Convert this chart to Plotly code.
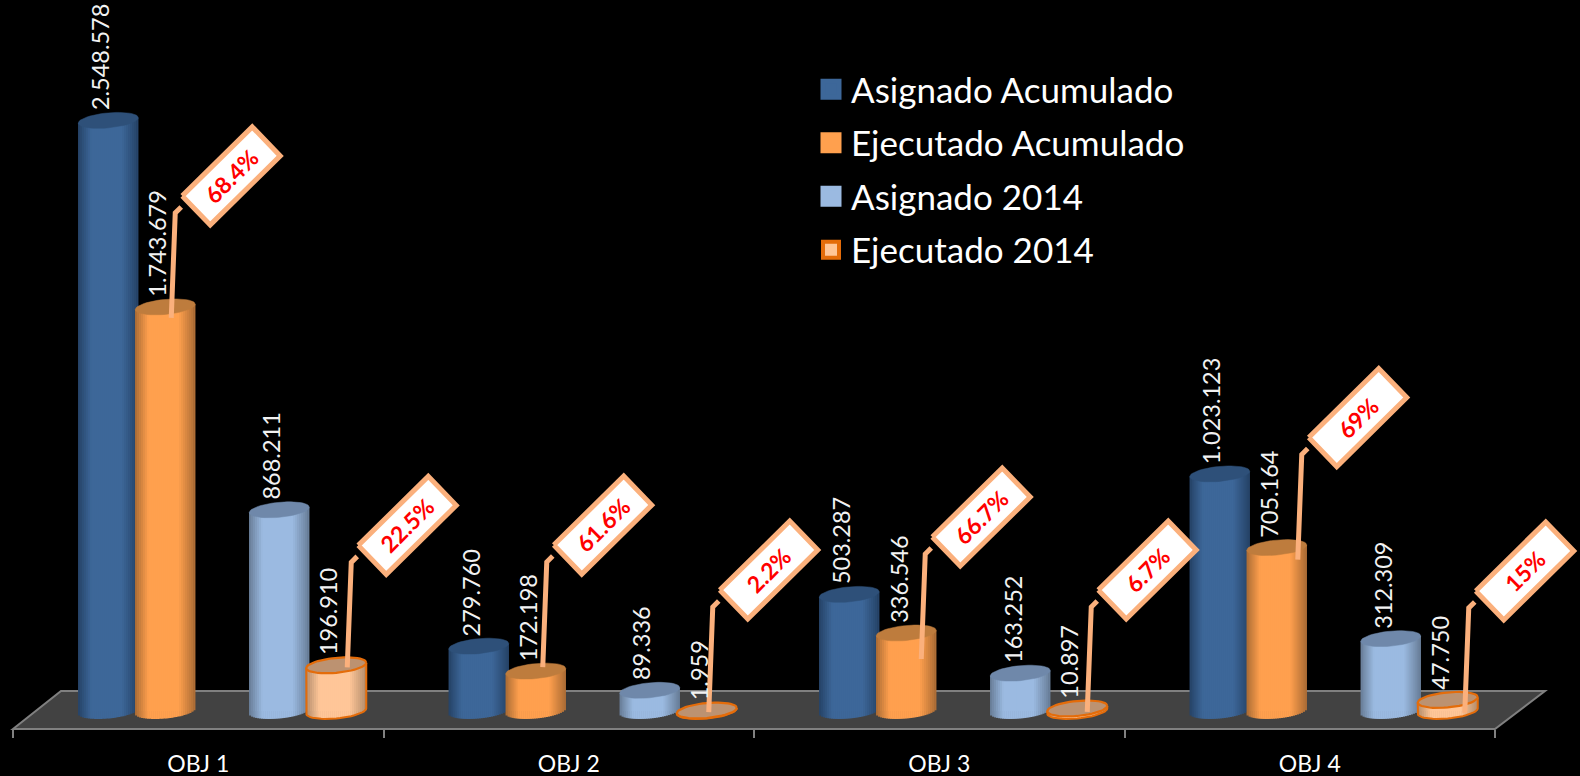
import math
import plotly.graph_objects as go

# ---------- data ----------
categories = ["OBJ 1", "OBJ 2", "OBJ 3", "OBJ 4"]
asignado_acumulado = [2548578, 279760, 503287, 1023123]
ejecutado_acumulado = [1743679, 172198, 336546, 705164]
asignado_2014 = [868211, 89336, 163252, 312309]
ejecutado_2014 = [196910, 1959, 10897, 47750]
pct_acumulado = ["68.4%", "61.6%", "66.7%", "69%"]
pct_2014 = ["22.5%", "2.2%", "6.7%", "15%"]
value_labels = lambda vals: [f"{v:,}".replace(",", ".") for v in vals]

# ---------- layout constants (pixels) ----------
W, H = 1580, 776
L, R = 13, 1495           # first / last category divider
AX_Y = 729                # axis line
BASE_Y = 711              # value 0
PX_CAT = (R - L) / 4      # px per category
K = 4315.0                # value units per px
FONT = "Lato"
BAR_W = 60
A, B = 30.0, 7.5          # ellipse half axes
TILT = 0.09
N_STRIP = 30

series = [
    dict(name="Asignado Acumulado", vals=asignado_acumulado, off=-90, mid=(61, 103, 153), edge=(37, 66, 102), cap="#2E5079"),
    dict(name="Ejecutado Acumulado", vals=ejecutado_acumulado, off=-33, mid=(255, 160, 78), edge=(170, 107, 52), cap="#BE7C3D"),
    dict(name="Asignado 2014", vals=asignado_2014, off=81, mid=(155, 186, 225), edge=(103, 124, 150), cap="#6F88AA"),
    dict(name="Ejecutado 2014", vals=ejecutado_2014, off=138, mid=(255, 198, 152), edge=(178, 140, 108), cap="#BC9271"),
]
OUTLINE = "#E46C0A"
CALL = "#FBB07C"

# leader foot offsets from the bar-top centre, px
foot_acum = [(6, 11), (7, -4), (15, 26), (21, 12)]
foot_2014 = [(11, 2), (2, 1.5), (10, 3.5), (17, 13)]


def hexmix(a, b, t):
    return "rgb(%d,%d,%d)" % tuple(round(a[i] + (b[i] - a[i]) * t) for i in range(3))


def ellipse(cx, v):
    xs, ys = [], []
    for i in range(49):
        t = 2 * math.pi * i / 48
        dx = A * math.cos(t)
        xs.append(cx + dx / PX_CAT)
        ys.append(v + K * (TILT * dx + B * math.sin(t)))
    return xs, ys


fig = go.Figure()

# cylinder bodies: one real bar per series, then shading strips through the same axes
for s in series:
    fig.add_trace(go.Bar(
        x=[i + s["off"] / PX_CAT for i in range(4)], y=s["vals"], width=(BAR_W - 4) / PX_CAT,
        marker=dict(color=hexmix(s["mid"], s["mid"], 0), line=dict(width=0)),
        name=s["name"], showlegend=False, cliponaxis=False, hoverinfo="skip"))
    sw = BAR_W / N_STRIP
    for j in range(N_STRIP):
        dx = -A + sw * (j + 0.5)
        u = dx / A
        band = 0.45 if u < 0 else 0.55
        t = min(1.0, (1 - abs(u)) / band)
        arc = B * math.sqrt(max(0.0, 1 - u * u))
        base = [K * (TILT * dx - arc)] * 4
        top = [v + K * TILT * dx for v in s["vals"]]
        fig.add_trace(go.Bar(
            x=[i + (s["off"] + dx) / PX_CAT for i in range(4)],
            y=[tp - bs for tp, bs in zip(top, base)], base=base,
            width=(sw + 0.4) / PX_CAT,
            marker=dict(color=hexmix(s["edge"], s["mid"], t), line=dict(width=0)),
            showlegend=False, cliponaxis=False, hoverinfo="skip"))

# cylinder tops
for s in series:
    xs, ys = [], []
    for i, v in enumerate(s["vals"]):
        ex, ey = ellipse(i + s["off"] / PX_CAT, v)
        xs += ex + [None]
        ys += ey + [None]
    outlined = s["name"] == "Ejecutado 2014"
    if outlined:
        ox, oy = [], []
        for i, v in enumerate(s["vals"]):
            cx = i + s["off"] / PX_CAT
            ox += [cx - A / PX_CAT]
            oy += [v - K * TILT * A]
            for q in range(25):
                th = math.pi + math.pi * q / 24
                dx = A * math.cos(th)
                ox.append(cx + dx / PX_CAT)
                oy.append(K * (TILT * dx + B * math.sin(th)))
            ox += [cx + A / PX_CAT, None]
            oy += [v + K * TILT * A, None]
        fig.add_trace(go.Scatter(x=ox, y=oy, mode="lines", line=dict(color=OUTLINE, width=2),
                                 showlegend=False, cliponaxis=False, hoverinfo="skip"))
    fig.add_trace(go.Scatter(
        x=xs, y=ys, mode="lines", fill="toself", fillcolor=s["cap"],
        line=dict(color=OUTLINE if outlined else s["cap"], width=2.2 if outlined else 0.5),
        showlegend=False, cliponaxis=False, hoverinfo="skip"))

# percentage call-outs
annotations = []
lead_x, lead_y, box_x, box_y = [], [], [], []
for s, pcts, feet in ((series[1], pct_acumulado, foot_acum), (series[3], pct_2014, foot_2014)):
    for i, (v, pct, (fx, fy)) in enumerate(zip(s["vals"], pcts, feet)):
        px0 = i + (s["off"] + fx) / PX_CAT
        val0 = v - fy * K
        for dx, dy in ((0, 0), (4, -105), (10, -111)):
            lead_x.append(px0 + dx / PX_CAT)
            lead_y.append(val0 - dy * K)
        lead_x.append(None)
        lead_y.append(None)
        for dx, dy in ((-49, 20), (21, -49), (49, -20), (-21, 49), (-49, 20)):
            box_x.append(i + (s["off"] + fx + 60 + dx) / PX_CAT)
            box_y.append(v - (fy - 142 + dy) * K)
        box_x.append(None)
        box_y.append(None)
        annotations.append(dict(
            x=i + (s["off"] + fx + 60) / PX_CAT, y=v - (fy - 142) * K, xref="x", yref="y",
            text=f"<b>{pct}</b>", showarrow=False, textangle=-45,
            font=dict(family=FONT, size=23, color="#FF0000")))

fig.add_trace(go.Scatter(x=lead_x, y=lead_y, mode="lines", line=dict(color=CALL, width=5),
                         showlegend=False, cliponaxis=False, hoverinfo="skip"))
fig.add_trace(go.Scatter(x=box_x, y=box_y, mode="lines", fill="toself", fillcolor="#FFFFFF",
                         line=dict(color=CALL, width=5),
                         showlegend=False, cliponaxis=False, hoverinfo="skip"))

# value labels
for s in series:
    for i, (v, lab) in enumerate(zip(s["vals"], value_labels(s["vals"]))):
        annotations.append(dict(
            x=i + s["off"] / PX_CAT, y=v, xref="x", yref="y", text=lab, showarrow=False,
            textangle=-90, xanchor="center", yanchor="bottom", xshift=-8, yshift=8,
            font=dict(family=FONT, size=23.5, color="#F2F2F2")))

# legend entries
for s in series:
    peach = s["name"] == "Ejecutado 2014"
    fig.add_trace(go.Scatter(
        x=[None], y=[None], mode="markers", name=s["name"], legendgroup=s["name"],
        marker=dict(symbol="square", size=16, color=hexmix(s["mid"], s["mid"], 0),
                    line=dict(color=OUTLINE if peach else hexmix(s["mid"], s["mid"], 0), width=4 if peach else 5))))


def pxp(x, y):
    return f"{(x - L) / (W - L):.5f} {(AX_Y - y) / AX_Y:.5f}"


path = f"M{pxp(13, 729)}L{pxp(61, 691)}L{pxp(1545, 691)}L{pxp(1495, 729)}Z"

fig.update_layout(
    width=W, height=H, autosize=False,
    margin=dict(l=L, r=0, t=0, b=H - AX_Y, pad=0),
    paper_bgcolor="#000000", plot_bgcolor="rgba(0,0,0,0)",
    barmode="overlay", hovermode=False, annotations=annotations,
    font=dict(family=FONT, color="#FFFFFF"),
    shapes=[dict(type="path", xref="paper", yref="paper", path=path, layer="below",
                 fillcolor="#424242", line=dict(color="#808080", width=2))],
    legend=dict(x=(811 - L) / (W - L), y=1 - 60 / AX_Y, xanchor="left", yanchor="top",
                bgcolor="rgba(0,0,0,0)", font=dict(family=FONT, size=35, color="#FFFFFF"),
                tracegroupgap=5, itemclick=False, itemdoubleclick=False),
    xaxis=dict(range=[-0.5, 3.5 + (W - R) / PX_CAT], tickmode="array", tickvals=list(range(4)),
               ticktext=categories, automargin=False,
               showgrid=False, zeroline=False, showline=False,
               ticks="", ticklabelstandoff=19, tickfont=dict(family=FONT, size=23, color="#FFFFFF"),
               minor=dict(tickmode="array", tickvals=[-0.5, 0.5, 1.5, 2.5, 3.5], ticks="outside",
                          ticklen=8, tickwidth=2, tickcolor="#808080", showgrid=False)),
    yaxis=dict(range=[(BASE_Y - AX_Y) * K, BASE_Y * K], visible=False, showgrid=False,
               zeroline=False, automargin=False),
)

fig.write_html("out.html", config={"displayModeBar": False},
               post_script="document.documentElement.style.background='#000';document.body.style.margin='0';document.body.style.background='#000';document.body.style.overflow='hidden';")
